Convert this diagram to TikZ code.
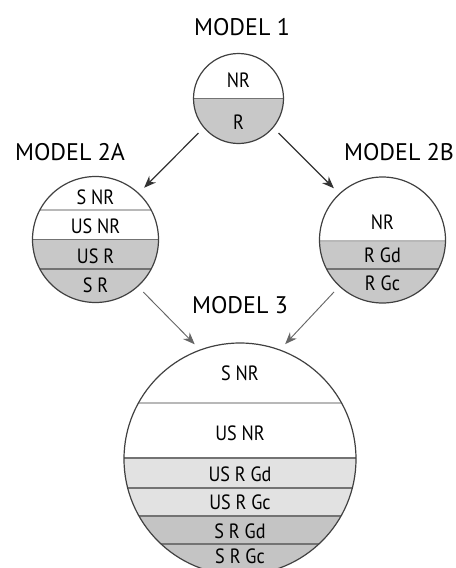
\documentclass[tikz,border=0pt]{standalone}
\usepackage{fontspec}
\setmainfont{PT Sans}
\usetikzlibrary{arrows.meta}
\definecolor{gA}{HTML}{C8C8C8}
\definecolor{gL}{HTML}{E2E2E2}
\definecolor{gD}{HTML}{C4C4C4}
\newcommand\narrowtxt[1]{\scalebox{0.88}[1]{#1}}
\tikzset{
  ring/.style={circle, draw=black!75, line width=0.9pt, minimum size=#1, inner sep=0pt, outer sep=0pt},
  lab/.style={font=\fontsize{15.5}{15.5}\selectfont, inner sep=0pt},
  ttl/.style={font=\fontsize{18}{18}\selectfont, inner sep=0pt},
  lightdiv/.style={draw=black!28, line width=1.3pt},
  darkdiv/.style={draw=black!55, line width=1pt},
  arr/.style={-{Stealth[length=9pt,width=7pt]}, line width=0.9pt, draw=black!80, shorten <=6pt, shorten >=6pt},
  arrg/.style={arr, draw=black!60, line width=0.7pt}
}
\begin{document}
\begin{tikzpicture}[x=0.75pt,y=-0.75pt]
\useasboundingbox (0,0) rectangle (456,568);
% ---------- Model 1
\begin{scope}
  \clip (238.5,98.5) circle (45);
  \fill[gA] (150,98.5) rectangle (330,150);
  \draw[darkdiv] (150,98.5) -- (330,98.5);
\end{scope}
\node[ring=67.5pt] (m1) at (238.5,98.5) {};
\node[lab] (m1a) at (238.5,80) {\narrowtxt{NR}};
\node[lab] (m1b) at (238.5,122) {\narrowtxt{R}};
\node[ttl] (t1) at (242,27) {MODEL 1};
% ---------- Model 2A
\begin{scope}
  \clip (95.5,239.5) circle (63);
  \fill[gA] (20,239.5) rectangle (170,310);
  \draw[lightdiv] (20,210) -- (170,210);
  \draw[darkdiv] (20,239.5) -- (170,239.5);
  \draw[darkdiv] (20,269) -- (170,269);
\end{scope}
\node[ring=94.5pt] (m2a) at (95.5,239.5) {};
\node[lab] (a1) at (95.5,197) {\narrowtxt{S NR}};
\node[lab] (a2) at (95.5,226) {\narrowtxt{US NR}};
\node[lab] (a3) at (95.5,256) {\narrowtxt{US R}};
\node[lab] (a4) at (95.5,285) {\narrowtxt{S R}};
\node[ttl] (t2a) at (70,152) {MODEL 2A};
% ---------- Model 2B
\begin{scope}
  \clip (382.5,240) circle (63);
  \fill[gA] (310,241) rectangle (460,310);
  \draw[lightdiv] (310,241) -- (460,241);
  \draw[darkdiv] (310,269) -- (460,269);
\end{scope}
\node[ring=94.5pt] (m2b) at (382.5,240) {};
\node[lab] (b1) at (382.5,222) {\narrowtxt{NR}};
\node[lab] (b2) at (382.5,255) {\narrowtxt{R Gd}};
\node[lab] (b3) at (382.5,283) {\narrowtxt{R Gc}};
\node[ttl] (t2b) at (399,152) {MODEL 2B};
% ---------- Model 3
\begin{scope}
  \clip (240,459) circle (116);
  \fill[gL] (110,458) rectangle (370,516);
  \fill[gD] (110,516) rectangle (370,600);
  \draw[lightdiv] (110,403) -- (370,403);
  \draw[darkdiv] (110,458) -- (370,458);
  \draw[darkdiv] (110,488) -- (370,488);
  \draw[darkdiv] (110,516) -- (370,516);
  \draw[darkdiv] (110,544) -- (370,544);
\end{scope}
\node[ring=174pt] (m3) at (240,459) {};
\node[lab] (c1) at (240,373) {\narrowtxt{S NR}};
\node[lab] (c2) at (240,433) {\narrowtxt{US NR}};
\node[lab] (c3) at (240,474) {\narrowtxt{US R Gd}};
\node[lab] (c4) at (240,502) {\narrowtxt{US R Gc}};
\node[lab] (c5) at (240,531) {\narrowtxt{S R Gd}};
\node[lab] (c6) at (240,556) {\narrowtxt{S R Gc}};
\node[ttl] (t3) at (240,305) {MODEL 3};
% ---------- arrows
\draw[arr] (m1.220) -- (m2a.47);
\draw[arr] (m1.320) -- (m2b.133);
\draw[arrg] (m2a.-48) -- (m3.110.6);
\draw[arrg] (m2b.227) -- (m3.70.8);
\end{tikzpicture}
\end{document}
